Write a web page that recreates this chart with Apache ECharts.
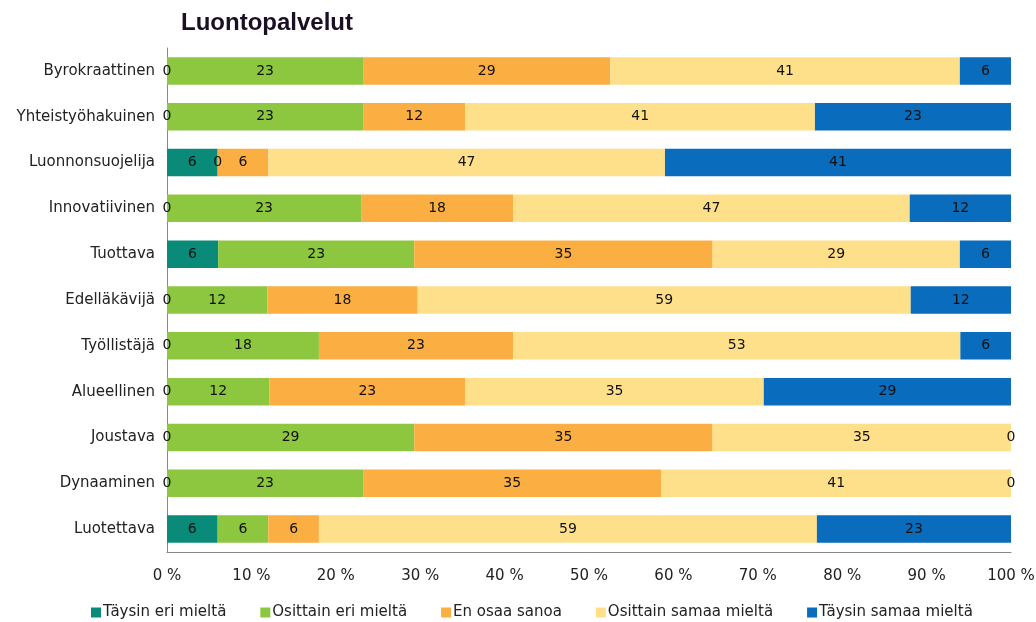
<!DOCTYPE html>
<html>
<head>
<meta charset="utf-8">
<script src="https://cdn.jsdelivr.net/npm/echarts@6/dist/echarts.min.js"></script>
<style>
  html, body { margin: 0; padding: 0; background: #fff; }
  #chart { width: 1036px; height: 622px; }
</style>
</head>
<body>
<div id="chart"></div>
<script>
var categories = [
  "Byrokraattinen", "Yhteistyöhakuinen", "Luonnonsuojelija", "Innovatiivinen",
  "Tuottava", "Edelläkävijä", "Työllistäjä", "Alueellinen",
  "Joustava", "Dynaaminen", "Luotettava"
];
var seriesNames = [
  "Täysin eri mieltä", "Osittain eri mieltä", "En osaa sanoa",
  "Osittain samaa mieltä", "Täysin samaa mieltä"
];
var taysinEri   = [0, 0, 6, 0, 6, 0, 0, 0, 0, 0, 6];
var osittainEri = [23, 23, 0, 23, 23, 12, 18, 12, 29, 23, 6];
var enOsaa      = [29, 12, 6, 18, 35, 18, 23, 23, 35, 35, 6];
var osittainSam = [41, 41, 47, 47, 29, 59, 53, 35, 35, 41, 59];
var taysinSam   = [6, 23, 41, 12, 6, 12, 6, 29, 0, 0, 23];
var colors = ["#0a8a78", "#8dc63f", "#fbae42", "#ffe08a", "#0a6cbc"];

var raw = [taysinEri, osittainEri, enOsaa, osittainSam, taysinSam];
// 100 % stacked: each row is scaled to its own total
var totals = categories.map(function (c, i) {
  return raw.reduce(function (s, arr) { return s + arr[i]; }, 0);
});

var chart = echarts.init(document.getElementById("chart"));
var font = "DejaVu Sans, Verdana, sans-serif";

var series = raw.map(function (arr, k) {
  return {
    name: seriesNames[k],
    type: "bar",
    stack: "all",
    barWidth: "60%",
    itemStyle: { color: colors[k] },
    label: {
      show: true,
      position: "inside",
      color: "#111",
      fontSize: 14,
      fontFamily: font,
      formatter: function (p) { return arr[p.dataIndex]; }
    },
    data: arr.map(function (v, i) { return v / totals[i] * 100; })
  };
});

chart.setOption({
  animation: false,
  title: {
    text: "Luontopalvelut",
    left: 176,
    top: 6,
    textStyle: { fontFamily: "Liberation Sans, Arial, sans-serif", fontSize: 24, fontWeight: "bold", color: "#1a0f24" }
  },
  legend: {
    data: seriesNames,
    left: 86,
    top: 600,
    itemWidth: 10,
    itemHeight: 10,
    itemGap: 34,
    icon: "rect",
    textStyle: { fontFamily: font, fontSize: 15, color: "#222", padding: [0, 0, 0, -3] }
  },
  grid: { left: 167, right: 25, top: 48, bottom: 70, outerBoundsMode: "none" },
  xAxis: {
    type: "value",
    min: 0,
    max: 100,
    interval: 10,
    axisLine: { show: true, lineStyle: { color: "#888" } },
    axisTick: { show: false },
    splitLine: { show: false },
    axisLabel: {
      formatter: "{value} %",
      fontFamily: font,
      fontSize: 15,
      color: "#222",
      margin: 17
    }
  },
  yAxis: {
    type: "category",
    inverse: true,
    data: categories,
    axisLine: { show: true, lineStyle: { color: "#888" } },
    axisTick: { show: false },
    axisLabel: { fontFamily: font, fontSize: 15, color: "#222", margin: 12 }
  },
  series: series
});
</script>
</body>
</html>
